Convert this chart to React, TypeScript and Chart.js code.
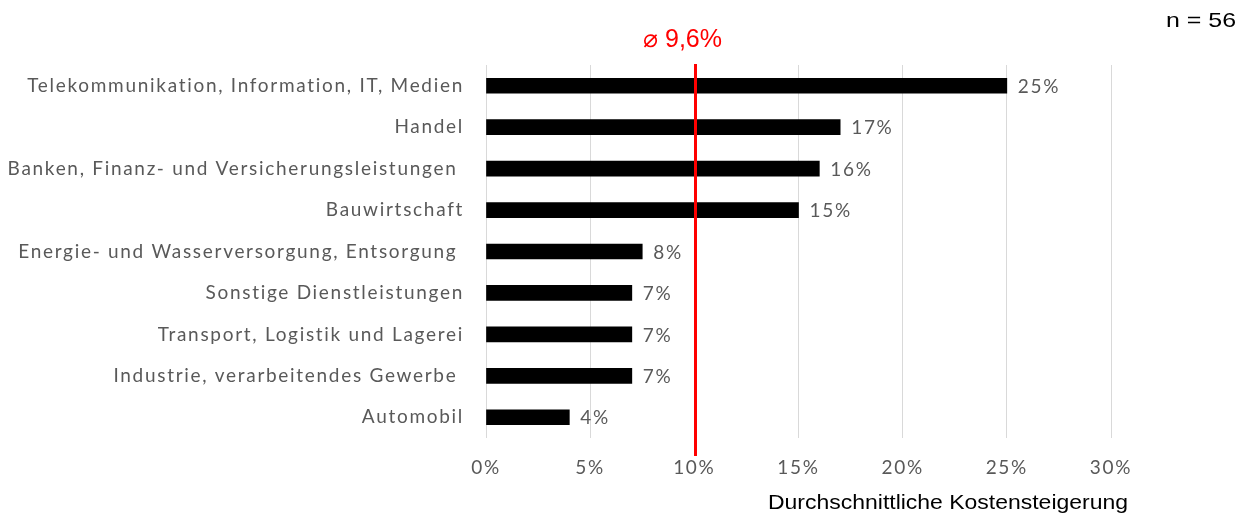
import React, { useEffect, useRef } from "react";
import { Chart, registerables } from "chart.js";

Chart.register(...registerables);

const categories = [
  "Telekommunikation, Information, IT, Medien",
  "Handel",
  "Banken, Finanz- und Versicherungsleistungen ",
  "Bauwirtschaft",
  "Energie- und Wasserversorgung, Entsorgung ",
  "Sonstige Dienstleistungen",
  "Transport, Logistik und Lagerei",
  "Industrie, verarbeitendes Gewerbe ",
  "Automobil",
];
const values = [25, 17, 16, 15, 7.5, 7, 7, 7, 4];
const valueLabels = ["25%", "17%", "16%", "15%", "8%", "7%", "7%", "7%", "4%"];
const averageValue = 10;
const averageLabel = "\u2300 9,6%";
const sampleLabel = "n = 56";
const axisTitle = "Durchschnittliche Kostensteigerung";

const FONT = "Lato, 'Open Sans', sans-serif";
const ARIAL = "Arial, 'Liberation Sans', sans-serif";
const GRAY = "#595959";
const SPACING = "1.7px";

function drawStretched(
  ctx: CanvasRenderingContext2D,
  text: string,
  x: number,
  y: number,
  width: number,
  align: "left" | "center" | "right"
) {
  const w = ctx.measureText(text).width;
  const sx = width / w;
  ctx.save();
  ctx.textAlign = "left";
  const left = align === "left" ? x : align === "center" ? x - width / 2 : x - width;
  ctx.translate(left, y);
  ctx.scale(sx, 1);
  ctx.fillText(text, 0, 0);
  ctx.restore();
}

export default function App() {
  const ref = useRef<HTMLCanvasElement>(null);
  useEffect(() => {
    document.body.style.margin = "0";
    const canvas = ref.current!;
    const overlay = {
      id: "overlay",
      beforeDraw(chart: any) {
        (chart.ctx as any).letterSpacing = SPACING;
      },
      afterDatasetsDraw(chart: any) {
        const { ctx, scales, chartArea } = chart;
        const x = scales.x;
        ctx.save();
        ctx.letterSpacing = SPACING;
        // data labels
        ctx.font = `19px ${FONT}`;
        ctx.fillStyle = GRAY;
        ctx.textAlign = "left";
        ctx.textBaseline = "middle";
        const meta = chart.getDatasetMeta(0);
        meta.data.forEach((bar: any, i: number) => {
          ctx.fillText(valueLabels[i], bar.x + 11, bar.y + 1);
        });
        // average line
        const ax = Math.round(x.getPixelForValue(averageValue)) + 1.5;
        ctx.strokeStyle = "#ff0000";
        ctx.lineWidth = 3;
        ctx.beginPath();
        ctx.moveTo(ax, chartArea.top - 1);
        ctx.lineTo(ax, chartArea.bottom + 18);
        ctx.stroke();
        ctx.textBaseline = "alphabetic";
        ctx.letterSpacing = "0px";
        ctx.font = `25px ${ARIAL}`;
        ctx.fillStyle = "#ff0000";
        drawStretched(ctx, averageLabel, 682.5, 47, 79, "center");
        // n label
        ctx.font = `21px ${ARIAL}`;
        ctx.fillStyle = "#000000";
        drawStretched(ctx, sampleLabel, 1236, 27, 70, "right");
        // axis title
        ctx.font = `20px ${ARIAL}`;
        drawStretched(ctx, axisTitle, 1128, 509, 360, "right");
        ctx.restore();
      },
    };
    const chart = new Chart(canvas, {
      type: "bar",
      data: {
        labels: categories,
        datasets: [
          {
            data: values,
            backgroundColor: "#000000",
            borderWidth: 0,
            barThickness: 15,
          },
        ],
      },
      options: {
        indexAxis: "y",
        animation: false,
        responsive: false,
        maintainAspectRatio: false,
        layout: { padding: { left: 0, right: 135, top: 65, bottom: 0 } },
        plugins: { legend: { display: false }, tooltip: { enabled: false }, title: { display: false } },
        scales: {
          x: {
            min: 0,
            max: 30,
            ticks: {
              stepSize: 5,
              color: GRAY,
              font: { family: FONT, size: 19 },
              padding: 18,
              callback: (v: any) => `${v}%`,
            },
            grid: { color: "#d9d9d9", lineWidth: 1, drawTicks: false },
            border: { display: false },
            afterFit: (s: any) => {
              s.height = 79;
            },
          },
          y: {
            ticks: {
              color: GRAY,
              font: { family: FONT, size: 19 },
              padding: 22,
            },
            grid: { display: false, drawTicks: false },
            border: { display: false },
            afterFit: (s: any) => {
              s.width = 486;
            },
          },
        },
      },
      plugins: [overlay],
    });
    return () => chart.destroy();
  }, []);
  return <canvas ref={ref} width={1246} height={517} style={{ display: "block" }} />;
}
